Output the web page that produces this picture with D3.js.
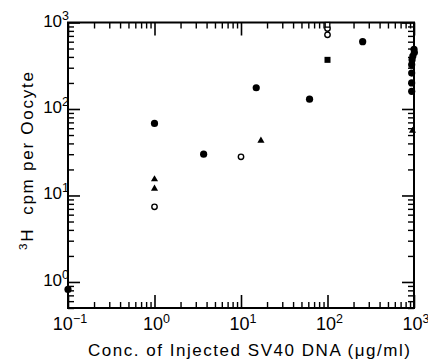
<!DOCTYPE html>
<html>
<head>
<meta charset="utf-8">
<script src="https://cdn.jsdelivr.net/npm/d3@7"></script>
<style>
  body { margin: 0; background: #fff; }
  svg { display: block; font-family: "Liberation Sans", Arial, sans-serif; }
  .axis path, .axis line { stroke: #000; }
</style>
</head>
<body>
<svg id="chart" width="428" height="364"></svg>
<script>
// values
const filledCircleX = [0.1, 1, 3.7, 15, 62, 255, 1000, 1010, 970, 950, 940, 940, 940, 940];
const filledCircleY = [0.82, 68, 30, 176, 130, 600, 490, 450, 410, 370, 325, 260, 200, 160];
const filledTriangleX = [1, 1, 17, 960];
const filledTriangleY = [15.4, 12.0, 43, 56];
const openCircleX = [1, 10, 100, 100];
const openCircleY = [7.4, 28, 720, 850];
const filledSquareX = [100];
const filledSquareY = [370];
const openSquareX = [100];
const openSquareY = [940];

const xTickExp = [-1, 0, 1, 2, 3];
const yTickExp = [0, 1, 2, 3];

const xTitle = 'Conc. of Injected SV40 DNA (\u03bcg/ml)';
const yTitle = ['3', 'H  cpm per Oocyte'];

const margin = { left: 68, right: 14, top: 22.5, bottom: 56 };
const width = 428, height = 364;

const svg = d3.select('#chart');

const x = d3.scaleLog().domain([0.1, 1000]).range([margin.left, width - margin.right]);
const y = d3.scaleLog().domain([0.5, 1000]).range([height - margin.bottom, margin.top]);

// minor tick values 2..9 of each decade
const minorX = [];
for (let e = -1; e < 3; e++) for (let k = 2; k <= 9; k++) minorX.push(k * Math.pow(10, e));
const minorY = [0.5, 0.6, 0.7, 0.8, 0.9];
for (let e = 0; e < 3; e++) for (let k = 2; k <= 9; k++) minorY.push(k * Math.pow(10, e));
const majorX = xTickExp.map(e => Math.pow(10, e));
const majorY = yTickExp.map(e => Math.pow(10, e));

const x0 = x.range()[0], x1 = x.range()[1];
const y0 = y.range()[0], y1 = y.range()[1];

function axisGroup(gen, tx, ty, vals, size, sw) {
  const g = svg.append('g').attr('class', 'axis').attr('transform', `translate(${tx},${ty})`)
    .call(gen.tickValues(vals).tickSize(size).tickSizeOuter(0).tickFormat(''));
  g.select('.domain').remove();
  g.selectAll('line').attr('stroke-width', sw);
}

// bottom / top (ticks point inward)
axisGroup(d3.axisBottom(x), 0, y0, minorX, -6, 1.4);
axisGroup(d3.axisBottom(x), 0, y0, majorX, -13, 1.6);
axisGroup(d3.axisTop(x), 0, y1, minorX, -6, 1.4);
axisGroup(d3.axisTop(x), 0, y1, majorX, -13, 1.6);
// left / right
axisGroup(d3.axisLeft(y), x0, 0, minorY, -6, 1.4);
axisGroup(d3.axisLeft(y), x0, 0, majorY, -12, 1.6);
axisGroup(d3.axisRight(y), x1, 0, minorY, -6, 1.4);
axisGroup(d3.axisRight(y), x1, 0, majorY, -12, 1.6);

// frame
svg.append('rect')
  .attr('x', x0).attr('y', y1)
  .attr('width', x1 - x0).attr('height', y0 - y1)
  .attr('fill', 'none').attr('stroke', '#000').attr('stroke-width', 2);

// tick labels as 10 with superscript exponent
svg.selectAll('.xlab').data(xTickExp).enter().append('text')
  .attr('class', 'xlab')
  .attr('x', d => x(Math.pow(10, d)) + 2)
  .attr('y', y0 + 22)
  .attr('text-anchor', 'middle')
  .attr('font-size', 18)
  .each(function (d) {
    const t = d3.select(this);
    t.append('tspan').text('10');
    t.append('tspan').attr('dy', -7).attr('font-size', 12.5).text(d < 0 ? '\u2212' + (-d) : d);
  });

svg.selectAll('.ylab').data(yTickExp).enter().append('text')
  .attr('class', 'ylab')
  .attr('x', x0 + 1)
  .attr('y', d => y(Math.pow(10, d)) + 4)
  .attr('text-anchor', 'end')
  .attr('font-size', 17)
  .each(function (d) {
    const t = d3.select(this);
    t.append('tspan').text('10');
    t.append('tspan').attr('dy', -7).attr('font-size', 12.5).text(d);
  });

// axis titles, stretched to the spacing of the original lettering
svg.append('text')
  .attr('x', 88).attr('y', 356)
  .attr('font-size', 17)
  .attr('textLength', 322)
  .attr('lengthAdjust', 'spacing')
  .text(xTitle);

const yt = svg.append('text')
  .attr('transform', 'translate(33,250) rotate(-90)')
  .attr('font-size', 17)
  .attr('textLength', 178)
  .attr('lengthAdjust', 'spacing');
yt.append('tspan').attr('font-size', 11.5).attr('dy', -6).text(yTitle[0]);
yt.append('tspan').attr('dy', 6).attr('xml:space', 'preserve').text(yTitle[1]);

// points
const zip = (xs, ys) => xs.map((v, i) => ({ x: v, y: ys[i] }));

svg.append('g').selectAll('circle').data(zip(filledCircleX, filledCircleY)).enter()
  .append('circle')
  .attr('cx', d => x(d.x)).attr('cy', d => y(d.y)).attr('r', 3.6)
  .attr('fill', '#000');

svg.append('g').selectAll('circle').data(zip(openCircleX, openCircleY)).enter()
  .append('circle')
  .attr('cx', d => x(d.x)).attr('cy', d => y(d.y)).attr('r', 2.7)
  .attr('fill', '#fff').attr('stroke', '#000').attr('stroke-width', 1.4);

svg.append('g').selectAll('path').data(zip(filledTriangleX, filledTriangleY)).enter()
  .append('path')
  .attr('transform', d => `translate(${x(d.x)},${y(d.y)})`)
  .attr('d', d3.symbol(d3.symbolTriangle, 22))
  .attr('fill', '#000');

svg.append('g').selectAll('rect').data(zip(filledSquareX, filledSquareY)).enter()
  .append('rect')
  .attr('x', d => x(d.x) - 3).attr('y', d => y(d.y) - 3)
  .attr('width', 6).attr('height', 6)
  .attr('fill', '#000');

svg.append('g').selectAll('rect').data(zip(openSquareX, openSquareY)).enter()
  .append('rect')
  .attr('x', d => x(d.x) - 2.3).attr('y', d => y(d.y) - 2.3)
  .attr('width', 4.6).attr('height', 4.6)
  .attr('fill', '#fff').attr('stroke', '#000').attr('stroke-width', 1.3);
</script>
</body>
</html>
